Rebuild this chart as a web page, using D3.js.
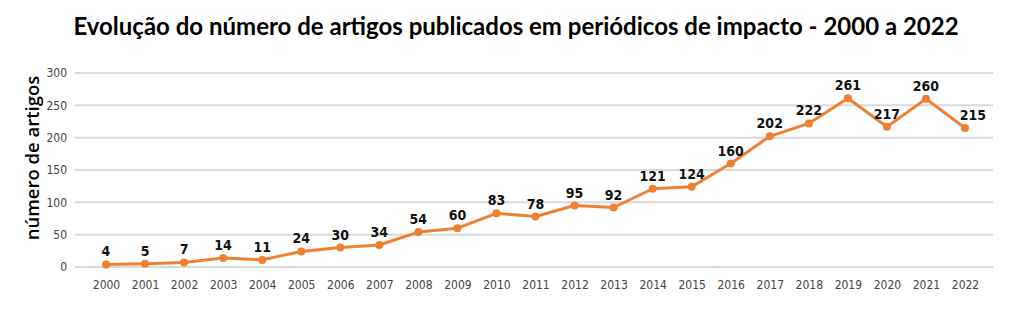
<!DOCTYPE html>
<html>
<head>
<meta charset="utf-8">
<script src="https://cdn.jsdelivr.net/npm/d3@7"></script>
<style>
  body { margin: 0; background: #fff; }
  svg { display: block; }
</style>
</head>
<body>
<svg id="chart" width="1024" height="326"></svg>
<script>
const years = ['2000', '2001', '2002', '2003', '2004', '2005', '2006', '2007', '2008', '2009', '2010',
  '2011', '2012', '2013', '2014', '2015', '2016', '2017', '2018', '2019', '2020', '2021', '2022'];
const articles = [4, 5, 7, 14, 11, 24, 30, 34, 54, 60, 83, 78, 95, 92, 121, 124, 160, 202, 222, 261, 217, 260, 215];
const yTicks = [0, 50, 100, 150, 200, 250, 300];

const titleText = 'Evolução do número de artigos publicados em periódicos de impacto - 2000 a 2022';
const yLabel = 'número de artigos';

const margin = { top: 73, right: 31, bottom: 59, left: 75 };
const width = 1024 - margin.left - margin.right;
const height = 326 - margin.top - margin.bottom;

const condensed = '"Liberation Sans Narrow", "DejaVu Sans Condensed", sans-serif';

const svg = d3.select('#chart');

svg.append('text')
  .attr('x', 516)
  .attr('y', 35)
  .attr('text-anchor', 'middle')
  .attr('font-family', 'Lato, "Open Sans", sans-serif')
  .attr('font-weight', 'bold')
  .attr('font-size', 24)
  .attr('fill', '#000')
  .text(titleText);

const chart = svg.append('g')
  .attr('transform', `translate(${margin.left}, ${margin.top})`);

const x = d3.scalePoint()
  .domain(years)
  .range([31, 890]);

const y = d3.scaleLinear()
  .domain([0, 300])
  .range([height, 0]);

// grid lines
chart.append('g')
  .selectAll('line')
  .data(yTicks)
  .enter()
  .append('line')
  .attr('x1', 0)
  .attr('x2', width)
  .attr('y1', d => y(d))
  .attr('y2', d => y(d))
  .attr('stroke', '#d9d9d9')
  .attr('stroke-width', 2);

const yAxis = d3.axisLeft(y).tickValues(yTicks).tickSize(0).tickPadding(8);
chart.append('g')
  .attr('class', 'y axis')
  .call(yAxis)
  .call(g => g.select('.domain').remove())
  .selectAll('text')
  .attr('font-family', condensed)
  .attr('font-size', 12)
  .attr('fill', '#444');

const xAxis = d3.axisBottom(x).tickSize(0).tickPadding(13);
chart.append('g')
  .attr('class', 'x axis')
  .attr('transform', `translate(0, ${height})`)
  .call(xAxis)
  .call(g => g.select('.domain').remove())
  .selectAll('text')
  .attr('font-family', condensed)
  .attr('font-size', 12)
  .attr('fill', '#444');

svg.append('text')
  .attr('transform', `translate(39, 158) rotate(-90)`)
  .attr('text-anchor', 'middle')
  .attr('font-family', '"Open Sans", sans-serif')
  .attr('font-weight', 600)
  .attr('font-size', 18.5)
  .attr('fill', '#000')
  .text(yLabel);

const data = years.map((yr, i) => ({ year: yr, value: articles[i] }));

const line = d3.line()
  .x(d => x(d.year))
  .y(d => y(d.value));

chart.append('path')
  .datum(data)
  .attr('fill', 'none')
  .attr('stroke', '#ee8032')
  .attr('stroke-width', 3)
  .attr('stroke-linejoin', 'round')
  .attr('d', line);

chart.selectAll('.dot')
  .data(data)
  .enter()
  .append('circle')
  .attr('class', 'dot')
  .attr('cx', d => x(d.year))
  .attr('cy', d => y(d.value))
  .attr('r', 4)
  .attr('fill', '#ee8032');

chart.selectAll('.label')
  .data(data)
  .enter()
  .append('text')
  .attr('class', 'label')
  .attr('x', (d, i) => x(d.year) + (i === data.length - 1 ? 8 : 0))
  .attr('y', d => y(d.value) - 8)
  .attr('text-anchor', 'middle')
  .attr('font-family', condensed)
  .attr('font-weight', 'bold')
  .attr('font-size', 14)
  .attr('fill', '#111')
  .text(d => d.value);
</script>
</body>
</html>
